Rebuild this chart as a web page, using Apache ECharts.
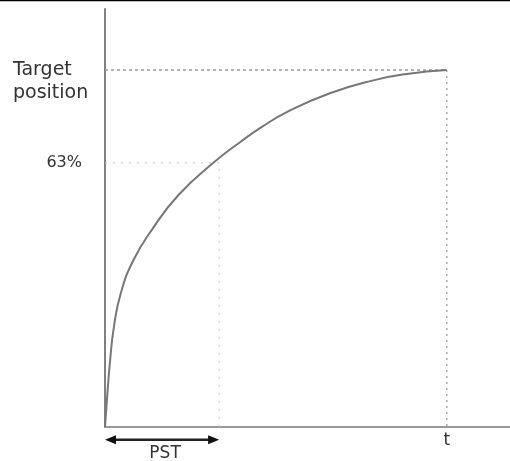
<!DOCTYPE html>
<html>
<head>
<meta charset="utf-8">
<script src="https://cdn.jsdelivr.net/npm/echarts@6/dist/echarts.min.js"></script>
<style>html,body{margin:0;padding:0;background:#fff}#c{width:510px;height:461px}</style>
</head>
<body>
<div id="c"></div>
<script>
// Curve points (x: time, 0..100 = t ; y: position, 100 = target)
const curveX = [0, 0.7, 1.5, 2.6, 4.6, 8.3, 13.9, 21.5, 31.7, 39.8, 45.8, 53.6, 65.8, 78.5, 88.3, 100];
const curveY = [0, 9.4, 18.7, 28.0, 37.4, 46.7, 55.5, 65.0, 74.0, 80.0, 84.0, 88.4, 93.5, 97.1, 98.9, 100];
const targetLevel = 100;
const pctLevel = 74;
const pstX = 33.4;
const tX = 100;
const arrowLevel = -3.55;
const yLabels = ['63%'];
const xLabels = ['t'];
const pstLabel = 'PST';
const targetLabel = 'Target\nposition';

const font = 'DejaVu Sans';
const chart = echarts.init(document.getElementById('c'));
const curve = curveX.map((x, i) => [x, curveY[i]]);

chart.setOption({
  animation: false,
  backgroundColor: '#fff',
  grid: { left: 105, right: 0, top: 9, bottom: 34 },
  xAxis: {
    type: 'value', min: 0, max: 118.5,
    axisLine: { show: true, lineStyle: { color: '#999', width: 2 } },
    axisTick: { show: false },
    splitLine: { show: false },
    axisLabel: {
      customValues: [tX], formatter: () => xLabels[0],
      margin: 5, fontSize: 17, fontFamily: font, color: '#333'
    }
  },
  yAxis: {
    type: 'value', min: 0, max: 117.1,
    axisLine: { show: true, lineStyle: { color: '#808080', width: 2 } },
    axisTick: { show: false },
    splitLine: { show: false },
    axisLabel: {
      customValues: [pctLevel], formatter: () => yLabels[0],
      margin: 23, fontSize: 16, fontFamily: font, color: '#333'
    }
  },
  series: [
    {
      type: 'line', data: [[0, targetLevel], [tX, targetLevel]], symbol: 'none',
      lineStyle: { color: '#999', width: 1.5, type: [3, 3] }, silent: true
    },
    {
      type: 'line', data: [[tX, targetLevel], [tX, 0]], symbol: 'none',
      lineStyle: { color: '#aaa', width: 1.5, type: [2, 4] }, silent: true
    },
    {
      type: 'line', data: [[0, pctLevel], [pstX, pctLevel], [pstX, 0]], symbol: 'none',
      lineStyle: { color: '#c4c4c4', width: 1, type: [2, 6] }, silent: true
    },
    {
      type: 'line', data: curve, smooth: 0.5, symbol: 'none',
      lineStyle: { color: '#777', width: 2 }
    }
  ]
});

// PST arrow and labels positioned through the chart's own scales
const p0 = chart.convertToPixel({ gridIndex: 0 }, [0, arrowLevel]);
const p1 = chart.convertToPixel({ gridIndex: 0 }, [pstX, arrowLevel]);
const y = p0[1];
const head = 11, half = 4.5;
chart.setOption({
  graphic: [
    { type: 'line', shape: { x1: 0, y1: 0.5, x2: 510, y2: 0.5 }, style: { stroke: '#000', lineWidth: 1.5 } },
    { type: 'text', left: 13, top: 59, style: { text: targetLabel, fontSize: 19, lineHeight: 23, fontFamily: font, fill: '#333' } },
    { type: 'line', shape: { x1: p0[0] + head - 2, y1: y, x2: p1[0] - head + 2, y2: y }, style: { stroke: '#222', lineWidth: 2.5 } },
    { type: 'polygon', shape: { points: [[p0[0], y], [p0[0] + head, y - half], [p0[0] + head, y + half]] }, style: { fill: '#111' } },
    { type: 'polygon', shape: { points: [[p1[0], y], [p1[0] - head, y - half], [p1[0] - head, y + half]] }, style: { fill: '#111' } },
    { type: 'text', x: (p0[0] + p1[0]) / 2 + 3, y: y + 5, style: { text: pstLabel, fontSize: 17, fontFamily: font, fill: '#333', align: 'center', verticalAlign: 'top' } }
  ]
});
</script>
</body>
</html>
